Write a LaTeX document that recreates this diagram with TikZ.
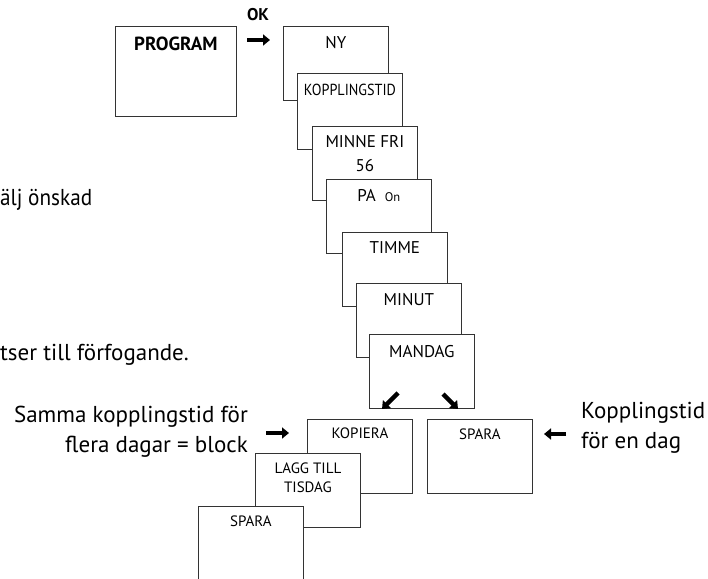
\documentclass[tikz,border=0pt]{standalone}
\usepackage{fontspec}
\setmainfont{PT Sans}
\usetikzlibrary{arrows.meta}
\tikzset{
  screen/.style={draw=black!80, line width=0.8pt, fill=white, anchor=north west,
    minimum width=105pt, minimum height=74pt, inner sep=0pt},
  scrtext/.style={anchor=north, inner sep=0pt, align=center,
    font=\fontsize{17}{24}\selectfont},
  smalltext/.style={scrtext, font=\fontsize{15}{19}\selectfont},
  bigtext/.style={inner sep=0pt, font=\fontsize{23}{30}\selectfont},
  fat/.style={line width=4.5pt, -{Triangle[length=7pt,width=11pt]}},
}
\begin{document}
\begin{tikzpicture}[x=1pt,y=-1pt]
\useasboundingbox (0,0) rectangle (708,578);
% text cut off at the left edge
\node[bigtext, anchor=base west] (frag1) at (0,205) {\resizebox{92pt}{\height}{älj önskad}};
\node[bigtext, anchor=base west] (frag2) at (0,360) {tser till förfogande.};
% start screen
\node[screen, minimum width=121pt, minimum height=90pt] (prog) at (115,26) {};
\node[scrtext, font=\fontsize{19}{22}\bfseries] (progtxt) at ([yshift=-11pt]prog.north) {PROGRAM};
\node[inner sep=0pt, anchor=base, font=\fontsize{17}{20}\bfseries] (ok) at (258,21) {OK};
\coordinate (okA) at (247,40);
\coordinate (okB) at (270,40);
\draw[fat] (okA) -- (okB);
% stacked screens
\node[screen] (ny) at (283,26) {};
\node[scrtext] (nytxt) at ([yshift=-10pt]ny.north) {NY};
\node[screen, minimum height=76pt] (kopp) at (297,73) {};
\node[scrtext, font=\fontsize{16}{18}\selectfont] (kopptxt) at ([yshift=-11pt]kopp.north) {\resizebox{92pt}{\height}{KOPPLINGSTID}};
\node[screen] (minne) at (312,126) {};
\node[scrtext] (minnetxt) at ([yshift=-9pt]minne.north) {MINNE FRI\\56};
\node[screen] (pa) at (326,179) {};
\node[scrtext] (patxt) at ([yshift=-10pt]pa.north) {PA\ \ {\fontsize{12.5}{14}\selectfont On}};
\node[screen] (timme) at (342,232) {};
\node[scrtext] (timmetxt) at ([yshift=-9pt]timme.north) {TIMME};
\node[screen] (minut) at (356,283) {};
\node[scrtext] (minuttxt) at ([yshift=-10pt]minut.north) {MINUT};
\node[screen] (mandag) at (369,334) {};
\node[scrtext] (mandagtxt) at ([yshift=-11pt]mandag.north) {MANDAG};
\coordinate (mA) at (398,393);
\coordinate (mB) at (382,409);
\coordinate (mC) at (443,394);
\coordinate (mD) at (458,409);
\draw[fat] (mA) -- (mB);
\draw[fat] (mC) -- (mD);
% copy to more days
\node[bigtext, anchor=base east] (blk1) at (248,422) {Samma kopplingstid för};
\node[bigtext, anchor=base east] (blk2) at (248,452) {flera dagar = block};
\coordinate (bA) at (266,433);
\coordinate (bB) at (289,433);
\draw[fat] (bA) -- (bB);
\node[screen] (kopiera) at (307,419) {};
\node[smalltext] (kopieratxt) at ([yshift=-9pt]kopiera.north) {KOPIERA};
\node[screen] (lagg) at (255,453) {};
\node[smalltext] (laggtxt) at ([yshift=-10pt]lagg.north) {LAGG TILL\\TISDAG};
\node[screen, minimum height=90pt] (sparaA) at (198,506) {};
\node[smalltext] (sparaAtxt) at ([yshift=-10pt]sparaA.north) {SPARA};
% one day
\node[screen] (sparaB) at (427,419) {};
\node[smalltext] (sparaBtxt) at ([yshift=-10pt]sparaB.north) {SPARA};
\coordinate (dA) at (566,434);
\coordinate (dB) at (544,434);
\draw[fat] (dA) -- (dB);
\node[bigtext, anchor=base west] (day1) at (581,418) {Kopplingstid};
\node[bigtext, anchor=base west] (day2) at (581,448) {för en dag};
\end{tikzpicture}
\end{document}
